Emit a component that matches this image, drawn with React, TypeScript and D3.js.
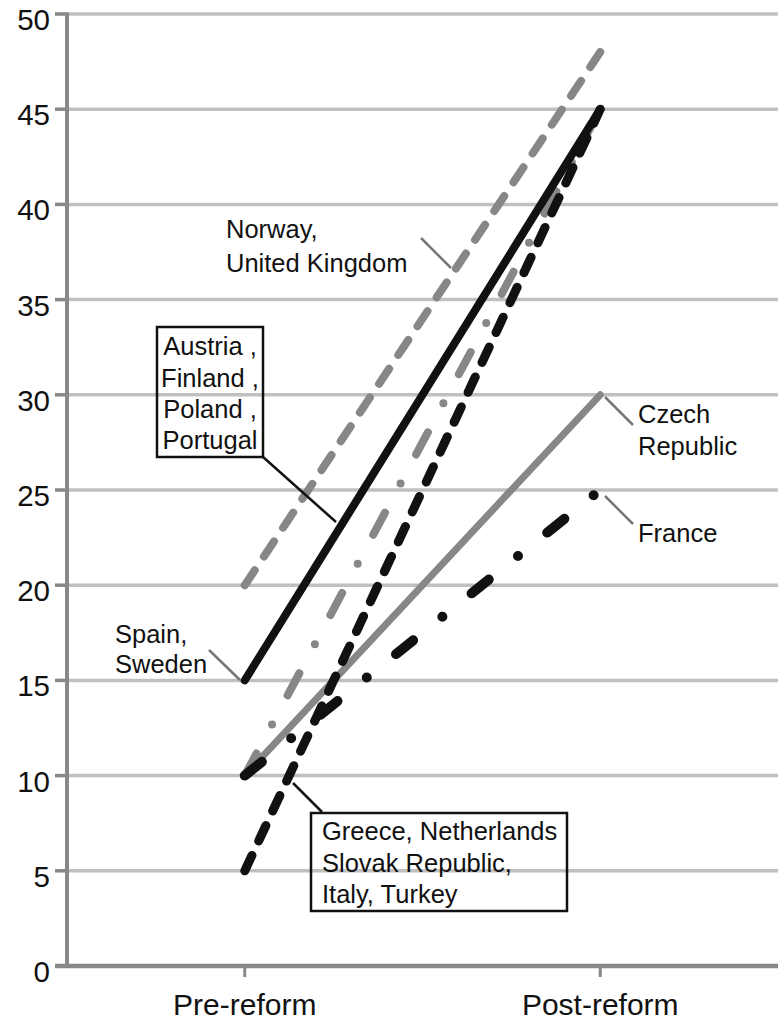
import React from "react";
import * as d3 from "d3";

const categories = ["Pre-reform", "Post-reform"];
const yTicks = [0, 5, 10, 15, 20, 25, 30, 35, 40, 45, 50];

// series: [pre, post]
const norwayUK = [20, 48];
const spainSweden = [15, 45];
const grayDashDot = [10, 45];
const greeceEtc = [5, 45];
const czech = [10, 30];
const france = [10, 25];

type S = { name: string; values: number[]; color: string; width: number; dash?: string };
const series: S[] = [
  { name: "Norway, United Kingdom", values: norwayUK, color: "#878787", width: 8, dash: "18 16.6" },
  { name: "Austria, Finland, Poland, Portugal", values: grayDashDot, color: "#878787", width: 8, dash: "25 33 0 33" },
  { name: "Czech Republic", values: czech, color: "#878787", width: 7 },
  { name: "Spain, Sweden", values: spainSweden, color: "#111", width: 8 },
  { name: "Greece, Netherlands, Slovak Republic, Italy, Turkey", values: greeceEtc, color: "#111", width: 9, dash: "17 16" },
  { name: "France", values: france, color: "#111", width: 10, dash: "22 37.5 0 37.5" },
];

const W = 782;
const H = 1024;
const FONT = "'Liberation Sans', Arial, sans-serif";

export default function App() {
  const y = d3.scaleLinear().domain([0, 50]).range([966, 14]);
  const x = d3.scalePoint<string>().domain(categories).range([67, 778]).padding(0.5);
  const line = d3
    .line<[string, number]>()
    .x((d) => x(d[0]) as number)
    .y((d) => y(d[1]));

  const gray = "#777";
  return (
    <svg
      width={W}
      height={H}
      style={{ position: "absolute", left: 0, top: 0, background: "#fff" }}
      fontFamily={FONT}
    >
      {/* gridlines */}
      {yTicks.slice(1).map((t) => (
        <line key={"g" + t} x1={67} x2={778} y1={y(t)} y2={y(t)} stroke="#c0c0c0" strokeWidth={3.5} />
      ))}
      {/* y ticks */}
      {yTicks.map((t) => (
        <line key={"t" + t} x1={55} x2={67} y1={y(t)} y2={y(t)} stroke="#888" strokeWidth={3.5} />
      ))}
      {yTicks.map((t) => (
        <text key={"l" + t} x={50} y={y(t) + 16} textAnchor="end" fontSize={29.5} fill="#111">
          {t}
        </text>
      ))}
      {/* axes */}
      <line x1={67} x2={67} y1={y(50) - 1.5} y2={y(0)} stroke="#888" strokeWidth={4} />
      <line x1={55} x2={778} y1={y(0)} y2={y(0)} stroke="#888" strokeWidth={4.5} />
      {categories.map((c) => (
        <g key={c}>
          <line x1={x(c)} x2={x(c)} y1={y(0)} y2={y(0) + 11} stroke="#888" strokeWidth={3} />
          <text x={x(c)} y={1015} textAnchor="middle" fontSize={30} fill="#111">
            {c}
          </text>
        </g>
      ))}

      {/* series lines */}
      {series.map((s) => (
        <path
          key={s.name}
          d={line(categories.map((c, i) => [c, s.values[i]] as [string, number])) || ""}
          fill="none"
          stroke={s.color}
          strokeWidth={s.width}
          strokeDasharray={s.dash}
          strokeLinecap="round"
          strokeLinejoin="round"
        />
      ))}

      {/* annotations */}
      <g fontSize={25.5} fill="#111">
        <text x={226} y={238}>Norway,</text>
        <text x={226} y={272}>United Kingdom</text>
        <line x1={421} y1={238} x2={451} y2={268} stroke={gray} strokeWidth={2.5} />

        <rect x={157} y={327} width={106} height={130} fill="none" stroke="#111" strokeWidth={2.5} />
        <text x={210} y={355} textAnchor="middle">Austria ,</text>
        <text x={210} y={387} textAnchor="middle">Finland ,</text>
        <text x={210} y={418} textAnchor="middle">Poland ,</text>
        <text x={210} y={449} textAnchor="middle">Portugal</text>
        <line x1={263} y1={457} x2={336} y2={522} stroke="#111" strokeWidth={2.5} />

        <text x={115} y={643}>Spain,</text>
        <text x={115} y={673}>Sweden</text>
        <line x1={209} y1={650} x2={240} y2={680} stroke={gray} strokeWidth={2.5} />

        <rect x={311} y={813} width={256} height={98} fill="none" stroke="#111" strokeWidth={2.5} />
        <text x={322} y={840}>Greece, Netherlands</text>
        <text x={322} y={872}>Slovak Republic,</text>
        <text x={322} y={903}>Italy, Turkey</text>
        <line x1={293} y1={783} x2={322} y2={812} stroke="#111" strokeWidth={2.5} />

        <text x={638} y={423}>Czech</text>
        <text x={638} y={455}>Republic</text>
        <line x1={605} y1={397} x2={633} y2={425} stroke={gray} strokeWidth={2.5} />

        <text x={638} y={542}>France</text>
        <line x1={605} y1={496} x2={633} y2={524} stroke={gray} strokeWidth={2.5} />
      </g>
    </svg>
  );
}
